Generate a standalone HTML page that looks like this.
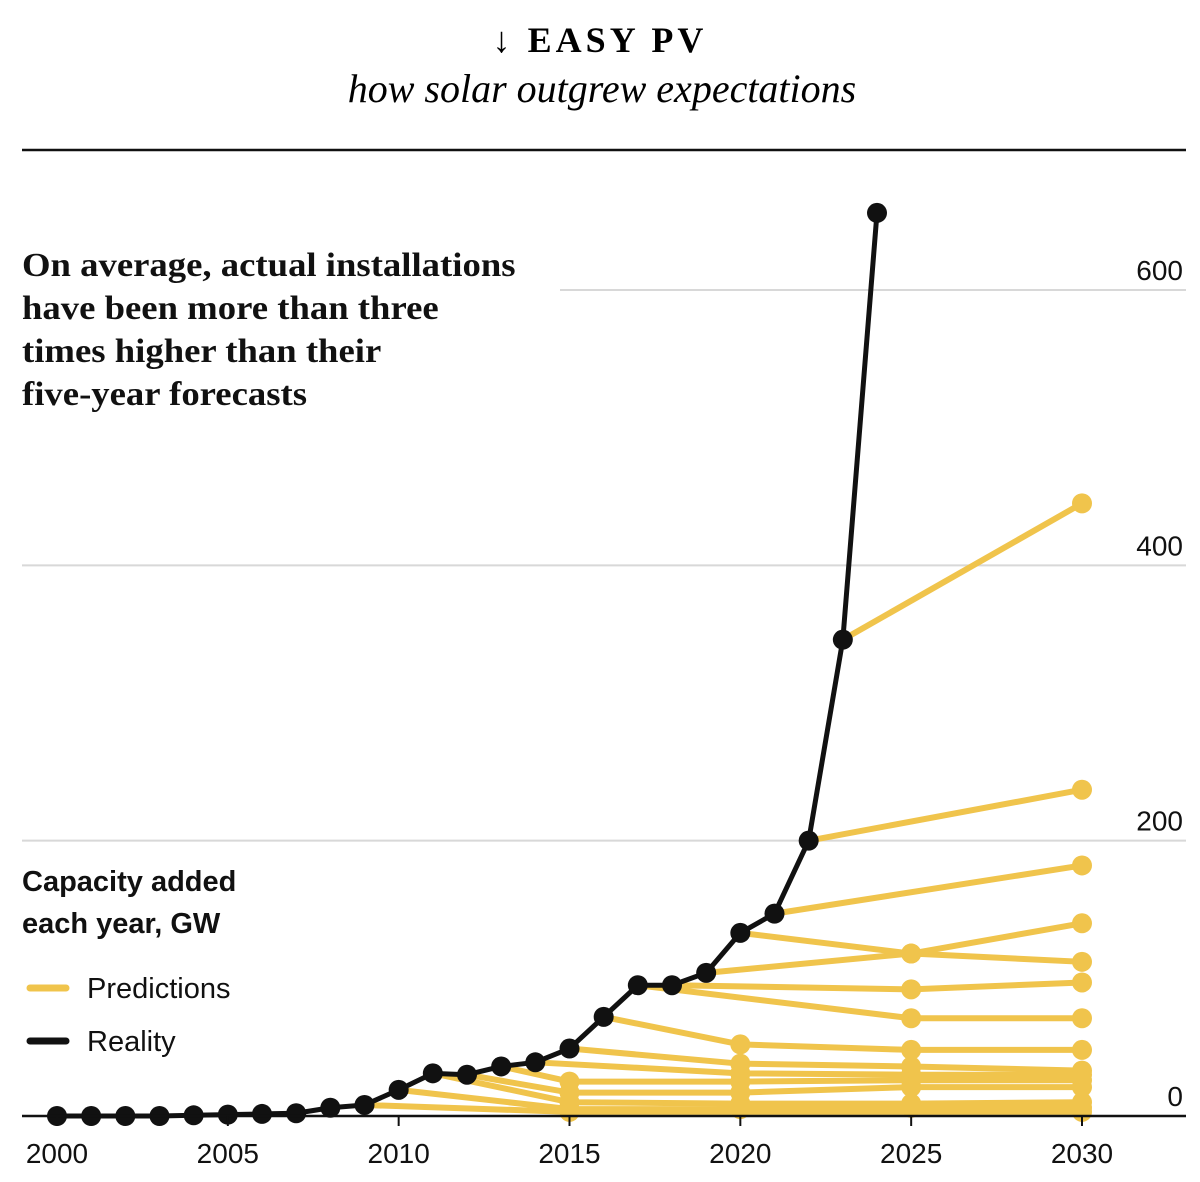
<!DOCTYPE html>
<html><head><meta charset="utf-8"><style>
body{margin:0;background:#fff;width:1200px;height:1182px;overflow:hidden}
svg{display:block}
.serif{font-family:"Liberation Serif",serif}
.sans{font-family:"Liberation Sans",sans-serif}
</style></head><body>
<svg id="chart" width="1200" height="1182" viewBox="0 0 1200 1182">
<text class="serif" x="600" y="52" text-anchor="middle" font-size="36" font-weight="bold" letter-spacing="4">↓ EASY PV</text>
<text class="serif" x="602" y="102" text-anchor="middle" font-size="40" font-style="italic">how solar outgrew expectations</text>
<line x1="22" y1="150" x2="1186" y2="150" stroke="#111" stroke-width="2.5"/>
<g class="serif" font-size="34" font-weight="bold" fill="#111">
<text x="22" y="276" transform="translate(22,0) scale(1.08,1) translate(-22,0)">On average, actual installations</text>
<text x="22" y="319" transform="translate(22,0) scale(1.08,1) translate(-22,0)">have been more than three</text>
<text x="22" y="362" transform="translate(22,0) scale(1.08,1) translate(-22,0)">times higher than their</text>
<text x="22" y="405" transform="translate(22,0) scale(1.08,1) translate(-22,0)">five-year forecasts</text>
</g>
<g class="sans" fill="#111">
<text x="22" y="891" font-size="29" font-weight="bold">Capacity added</text>
<text x="22" y="933" font-size="29" font-weight="bold">each year, GW</text>
<line x1="30" y1="988" x2="66" y2="988" stroke="#f0c44c" stroke-width="7" stroke-linecap="round"/>
<text x="87" y="998" font-size="29">Predictions</text>
<line x1="30" y1="1041" x2="66" y2="1041" stroke="#111" stroke-width="7" stroke-linecap="round"/>
<text x="87" y="1051" font-size="29">Reality</text>
</g>
<g id="grid"></g><g id="preds"></g><g id="real"></g><g id="axis"></g>
</svg>
<script>
const yTicks=[0,200,400,600];
const xTicks=[2000,2005,2010,2015,2020,2025,2030];
const realityYears=[2000,2001,2002,2003,2004,2005,2006,2007,2008,2009,2010,2011,2012,2013,2014,2015,2016,2017,2018,2019,2020,2021,2022,2023,2024];
const realityValues=[0,0,0,0,0.5,1,1.5,2,6,8,19,31,30,36,39,49,72,95,95,104,133,147,200,346,656];
const predYears=[
[2023,2030],[2022,2030],[2021,2030],[2020,2025,2030],[2019,2025,2030],[2018,2025,2030],[2017,2025,2030],
[2016,2020,2025,2030],[2015,2020,2025,2030],[2014,2020,2025,2030],[2013,2015,2020,2025,2030],
[2012,2015,2020,2025,2030],[2011,2015,2020,2025,2030],[2010,2015,2020,2025,2030],[2009,2015,2030]];
const predValues=[
[346,445],[200,237],[147,182],[133,118,112],[104,118,140],[95,92,97],[95,71,71],
[72,52,48,48],[49,38,36,33],[39,31,30,30],[36,25,25,26,26],
[30,17,17,21,21],[31,10,9,9,10],[19,5,5,6,6],[8,3,3]];
const X=y=>57+(y-2000)*(1082-57)/30;
const Y=v=>1116-v*(1116-290)/600;
const NS="http://www.w3.org/2000/svg";
function mk(t,a,p){const e=document.createElementNS(NS,t);for(const k in a)e.setAttribute(k,a[k]);p.appendChild(e);return e;}
const grid=document.getElementById('grid'),preds=document.getElementById('preds'),real=document.getElementById('real'),axis=document.getElementById('axis');
yTicks.forEach(t=>{
 if(t>0){const l=mk('line',{x1:t===600?560:22,x2:1186,y1:Y(t),y2:Y(t),stroke:'#d8d8d8','stroke-width':2},grid);
 
 }
 const tx=mk('text',{x:1183,y:Y(t)-10,'text-anchor':'end','font-size':28,'font-family':'Liberation Sans, sans-serif',fill:'#111'},grid);
 
 
 tx.textContent=t;
});
predYears.forEach((ys,i)=>{
 const pts=ys.map((y,j)=>X(y)+','+Y(predValues[i][j])).join(' ');
 const pl=mk('polyline',{points:pts,fill:'none',stroke:'#f0c44c','stroke-width':6,'stroke-linejoin':'round'},preds);
 
 
 ys.forEach((y,j)=>{if(j===0)return;
  const c=mk('circle',{cx:X(y),cy:Y(predValues[i][j]),r:10,fill:'#f0c44c'},preds);
  
  });
});
const rp=realityYears.map((y,i)=>X(y)+','+Y(realityValues[i])).join(' ');
const rl=mk('polyline',{points:rp,fill:'none',stroke:'#111','stroke-width':5,'stroke-linejoin':'round'},real);


realityYears.forEach((y,i)=>{
 const c=mk('circle',{cx:X(y),cy:Y(realityValues[i]),r:10,fill:'#111'},real);
 
 
});
const ax=mk('line',{x1:22,x2:1186,y1:1116,y2:1116,stroke:'#111','stroke-width':2.5},axis);


xTicks.forEach(t=>{
 const l=mk('line',{x1:X(t),x2:X(t),y1:1116,y2:1126,stroke:'#111','stroke-width':2},axis);
 
 
 const tx=mk('text',{x:X(t),y:1163,'text-anchor':'middle','font-size':28,'font-family':'Liberation Sans, sans-serif',fill:'#111'},axis);
 
 
 tx.textContent=t;
});
</script>
</body></html>
